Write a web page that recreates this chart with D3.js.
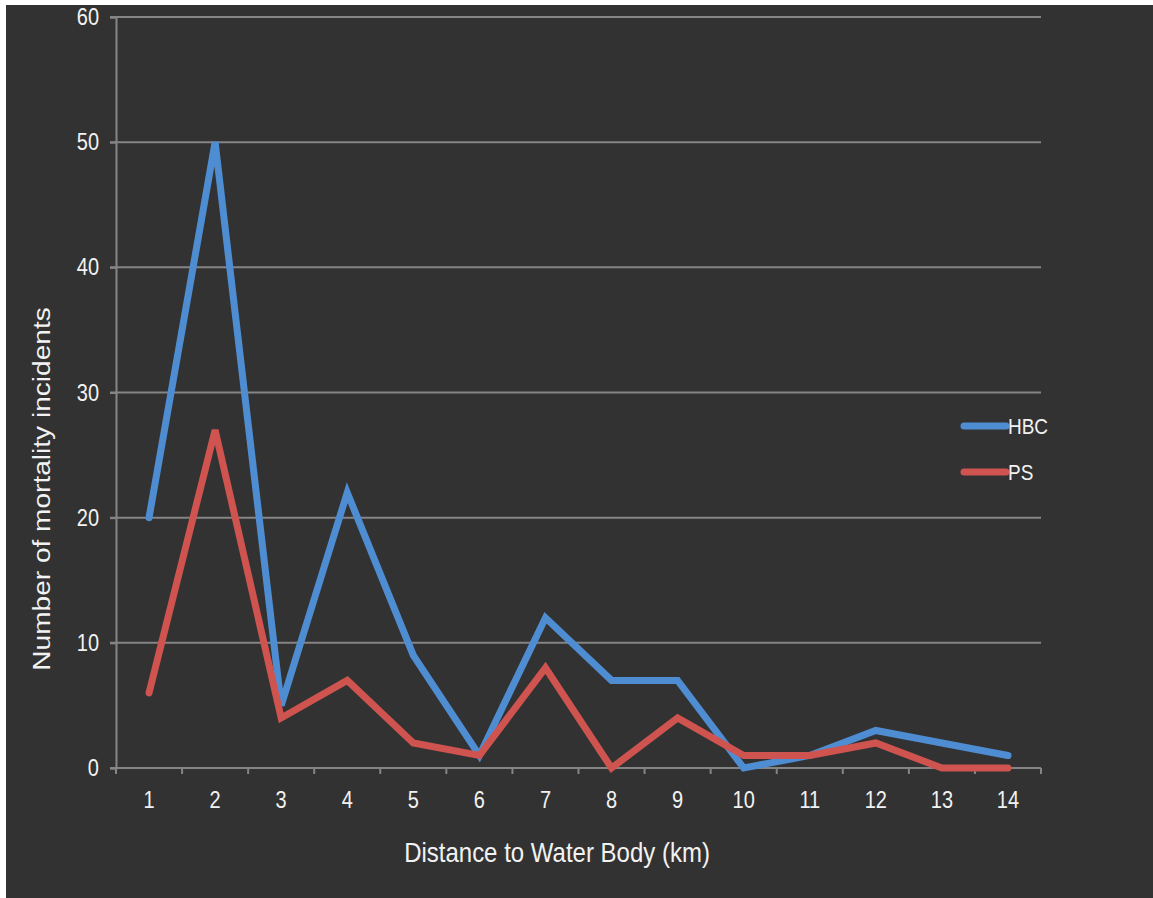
<!DOCTYPE html>
<html>
<head>
<meta charset="utf-8">
<script src="https://cdn.jsdelivr.net/npm/d3@7"></script>
<style>
  html, body { margin: 0; padding: 0; background: #ffffff; }
  svg { display: block; }
  text { font-family: "Liberation Sans", Arial, sans-serif; fill: #f2f2f2; }
</style>
</head>
<body>
<svg id="chart" width="1153" height="898"></svg>
<script>
// Distance bins (km) and mortality counts per species
const distances = [1, 2, 3, 4, 5, 6, 7, 8, 9, 10, 11, 12, 13, 14];
const hbcValues = [20, 50, 5, 22, 9, 1, 12, 7, 7, 0, 1, 3, 2, 1];
const psValues  = [6, 27, 4, 7, 2, 1, 8, 0, 4, 1, 1, 2, 0, 0];
const yTicks = [0, 10, 20, 30, 40, 50, 60];
const seriesNames = ["HBC", "PS"];
const seriesColors = ["#4f8dd3", "#cf5450"];

const svg = d3.select("#chart");
const W = 1153, H = 898;
const stretch = 1.17; // glyphs are drawn slightly taller than wide

// dark panel
svg.append("rect").attr("x", 6).attr("y", 5).attr("width", W - 6).attr("height", H - 5)
  .attr("fill", "#323232");

const margin = { left: 116, right: 112, top: 17, bottom: 130 };
const x = d3.scaleBand().domain(distances).range([margin.left, W - margin.right]);
const y = d3.scaleLinear().domain([0, 60]).range([H - margin.bottom, margin.top]);

const gridColor = "#858585";

// places a text label with its glyphs stretched vertically
function label(parent, px, py, str, size, anchor) {
  return parent.append("text")
    .attr("transform", `translate(${px},${py}) scale(1,${stretch})`)
    .attr("text-anchor", anchor)
    .style("font-size", size + "px")
    .text(str);
}

// horizontal gridlines
svg.append("g").selectAll("line").data(yTicks.filter(d => d > 0)).join("line")
  .attr("x1", margin.left - 6).attr("x2", W - margin.right)
  .attr("y1", d => y(d)).attr("y2", d => y(d))
  .attr("stroke", gridColor).attr("stroke-width", 2);

// y axis line and ticks
const yAxis = svg.append("g").attr("transform", `translate(${margin.left},0)`)
  .call(d3.axisLeft(y).tickValues(yTicks).tickSize(6).tickFormat(""));
yAxis.select(".domain").attr("stroke", gridColor).attr("stroke-width", 2);
yAxis.selectAll(".tick line").attr("stroke", gridColor).attr("stroke-width", 2);
const yLabels = svg.append("g");
yTicks.forEach(t => label(yLabels, 99, y(t) + 8, t, 20, "end"));

// x axis: ticks at band boundaries, labels centred in bands
const xAxisG = svg.append("g").attr("transform", `translate(0,${y(0)})`);
xAxisG.append("line").attr("x1", margin.left - 6).attr("x2", W - margin.right)
  .attr("y1", 0).attr("y2", 0).attr("stroke", gridColor).attr("stroke-width", 2);
const boundaries = distances.map(d => x(d)).concat([x(distances[distances.length - 1]) + x.bandwidth()]);
xAxisG.selectAll(".bt").data(boundaries).join("line").attr("class", "bt")
  .attr("x1", d => d).attr("x2", d => d).attr("y1", 0).attr("y2", 6)
  .attr("stroke", gridColor).attr("stroke-width", 2);
distances.forEach(d => label(xAxisG, x(d) + x.bandwidth() / 2, 40, d, 20, "middle"));

// lines
const line = d3.line()
  .x((d, i) => x(distances[i]) + x.bandwidth() / 2)
  .y(d => y(d));

[hbcValues, psValues].forEach((vals, i) => {
  svg.append("path").datum(vals)
    .attr("d", line)
    .attr("fill", "none")
    .attr("stroke", seriesColors[i])
    .attr("stroke-width", 7)
    .attr("stroke-linejoin", "miter")
    .attr("stroke-linecap", "round");
});

// legend
const legend = svg.append("g").attr("transform", "translate(964,426)");
seriesNames.forEach((name, i) => {
  const g = legend.append("g").attr("transform", `translate(0,${i * 46})`);
  g.append("line").attr("x1", 0).attr("x2", 42).attr("y1", 0).attr("y2", 0)
    .attr("stroke", seriesColors[i]).attr("stroke-width", 7).attr("stroke-linecap", "round");
  label(g, 44, 8, name, 19, "start");
});

// axis titles
label(svg, 557, 862, "Distance to Water Body (km)", 24, "middle");
svg.append("text").attr("transform", `translate(50,489) rotate(-90) scale(${stretch},1)`)
  .attr("text-anchor", "middle").style("font-size", "24px").text("Number of mortality incidents");
</script>
</body>
</html>
